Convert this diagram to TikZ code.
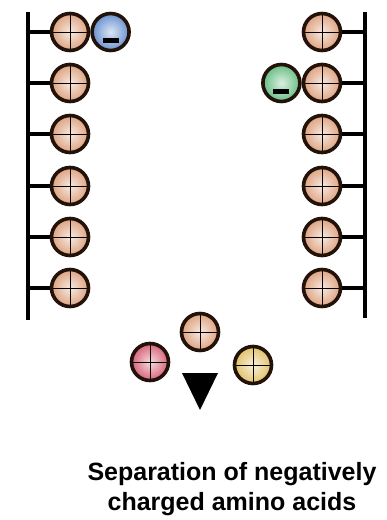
\documentclass[tikz,border=0pt]{standalone}
\usepackage{fontspec}
\setmainfont{Liberation Sans}
\usetikzlibrary{positioning, calc}

\definecolor{beadrim}{HTML}{22120A}
\definecolor{beadorange}{HTML}{D8926A}
\definecolor{beadblue}{HTML}{4F7FC8}
\definecolor{beadgreen}{HTML}{4DB26E}
\definecolor{beadred}{HTML}{D04860}
\definecolor{beadyellow}{HTML}{DDB64E}

\begin{document}
\begin{tikzpicture}[x=1pt, y=-1pt,
  %% contas positivas (com cruz)
  plusbead/.style={
    circle, draw=beadrim, line width=3.6pt,
    minimum size=37pt, inner sep=0pt,
    inner color=#1!20!white, outer color=#1!85!white,
    path picture={
      \draw[line width=1pt, black]
        (path picture bounding box.north) -- (path picture bounding box.south)
        (path picture bounding box.west) -- (path picture bounding box.east);
    }
  },
  plusbead/.default=beadorange,
  %% contas negativas (com traco)
  minusbead/.style={
    circle, draw=beadrim, line width=3.6pt,
    minimum size=37pt, inner sep=0pt,
    inner color=#1!20!white, outer color=#1!85!white,
    path picture={
      \fill[black]
        ([xshift=-8pt, yshift=-11pt]path picture bounding box.center)
        rectangle ([xshift=8pt, yshift=-6pt]path picture bounding box.center);
    }
  },
  %% colunas e ligacoes
  backbone/.style={line width=4pt, black},
  bar/.style={line width=4pt, black},
  %% legenda
  caption/.style={font=\fontsize{25}{30}\selectfont\bfseries, align=center}
]

\useasboundingbox (0,0) rectangle (387,520);

%% ================================================================
%% COLUNAS
%% ================================================================
\coordinate (backLtop) at (28,12);
\coordinate (backLbot) at (28,320);
\coordinate (backRtop) at (365,12);
\coordinate (backRbot) at (365,318);

\draw[backbone] (backLtop) -- (backLbot);
\draw[backbone] (backRtop) -- (backRbot);

\foreach \i/\y in {1/32, 2/83, 3/134, 4/186, 5/237, 6/288} {
  \node[plusbead] (L\i) at (70,\y) {};
  \node[plusbead] (R\i) at (322,\y) {};
  \draw[bar] (L\i.west) -- (L\i.west -| backLtop);
  \draw[bar] (R\i.east) -- (R\i.east -| backRtop);
}

%% ================================================================
%% AMINOACIDOS NEGATIVOS RETIDOS
%% ================================================================
\node[minusbead=beadblue, right=0pt of L1] (negL) {};
\node[minusbead=beadgreen, left=0pt of R2] (negR) {};

%% ================================================================
%% AMINOACIDOS QUE PASSAM
%% ================================================================
\node[plusbead] (passO) at (200,332) {};
\node[plusbead=beadred] (passR) at (150,362) {};
\node[plusbead=beadyellow] (passY) at (253,365) {};

\coordinate (droptip) at (200,410);
\fill[black] (droptip) -- ++(-18,-37) -- ++(36,0) -- cycle;

%% ================================================================
%% LEGENDA
%% ================================================================
\node[caption] (label) at (232,489) {Separation of negatively\\charged amino acids};

\end{tikzpicture}
\end{document}
